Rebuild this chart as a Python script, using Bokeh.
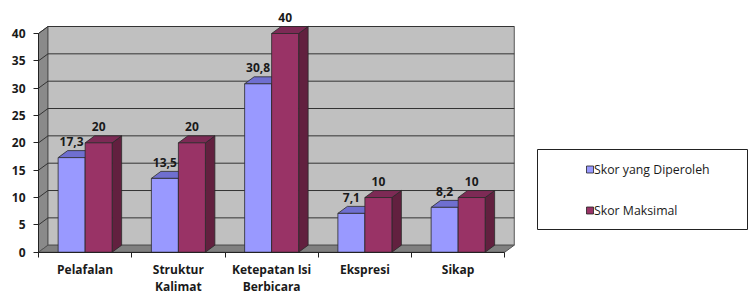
from bokeh.plotting import figure
from bokeh.models import LinearAxis, FixedTicker, Range1d
from bokeh.core.properties import value
from bokeh.embed import file_html
from bokeh.resources import INLINE

# ---------------- data ----------------
categories = ["Pelafalan", "Struktur\nKalimat", "Ketepatan Isi\nBerbicara", "Ekspresi", "Sikap"]
skor_diperoleh = [17.3, 13.5, 30.8, 7.1, 8.2]
skor_maksimal = [20, 20, 40, 10, 10]
label_diperoleh = ["17,3", "13,5", "30,8", "7,1", "8,2"]
label_maksimal = ["20", "20", "40", "10", "10"]
y_ticks = [0, 5, 10, 15, 20, 25, 30, 35, 40]
series_names = ["Skor yang Diperoleh", "Skor Maksimal"]

# ---------------- layout (pixels) ----------------
W, H = 749, 295
X0_PX = 38.0          # canvas x of the category axis origin
Y0_PX = 251.7         # canvas y (from top) of value 0
PX_PER_CAT = 93.25
PX_PER_UNIT = 5.4675
DEPTH_X_PX = 9.5
DEPTH_Y_PX = 7.0
BAR_W_PX = 27.0

FONT = value("Open Sans")

x_start = -X0_PX / PX_PER_CAT
x_end = (W - X0_PX) / PX_PER_CAT
y_start = -(H - Y0_PX) / PX_PER_UNIT
y_end = Y0_PX / PX_PER_UNIT
dx = DEPTH_X_PX / PX_PER_CAT
dy = DEPTH_Y_PX / PX_PER_UNIT
bw = BAR_W_PX / PX_PER_CAT


def px_x(cx):
    return (cx - X0_PX) / PX_PER_CAT


def px_y(cy):
    return (Y0_PX - cy) / PX_PER_UNIT


p = figure(width=W, height=H, x_range=Range1d(x_start, x_end), y_range=Range1d(y_start, y_end),
           output_backend="svg", toolbar_location=None, x_axis_location=None, y_axis_location=None,
           min_border=0)
p.outline_line_color = None
p.grid.grid_line_color = None
p.background_fill_color = "white"

n = len(categories)
ymax = y_ticks[-1]
EDGE = "#2a2a2a"

# walls & floor
p.patch([0, dx, dx, 0], [0, dy, ymax + dy, ymax], fill_color="#8a8a8a", line_color="#555555", line_width=1)
p.patch([dx, n + dx, n + dx, dx], [dy, dy, ymax + dy, ymax + dy], fill_color="#c0c0c0",
        line_color="#555555", line_width=1)
p.patch([0, n, n + dx, dx], [0, 0, dy, dy], fill_color="#808080", line_color="#555555", line_width=1)

# gridlines on walls
gx = [[0, dx, n + dx] for v in y_ticks[1:]]
gy = [[v, v + dy, v + dy] for v in y_ticks[1:]]
p.multi_line(gx, gy, line_color="#333333", line_width=1)


def bar3d(x0s, vals, front, top, side):
    x1s = [x + bw for x in x0s]
    p.patches(xs=[[x1, x1 + dx, x1 + dx, x1] for x1 in x1s],
              ys=[[0, dy, v + dy, v] for v in vals],
              fill_color=side, line_color=EDGE, line_width=0.8)
    p.patches(xs=[[x0, x1, x1 + dx, x0 + dx] for x0, x1 in zip(x0s, x1s)],
              ys=[[v, v, v + dy, v + dy] for v in vals],
              fill_color=top, line_color=EDGE, line_width=0.8)
    p.quad(left=x0s, right=x1s, bottom=0, top=vals, fill_color=front, line_color=EDGE, line_width=0.8)


centers = [i + 0.5 for i in range(n)]
blue_x0 = [c - bw for c in centers]
red_x0 = list(centers)

bar3d(blue_x0, skor_diperoleh, "#9999ff", "#6f6fd0", "#5c5cb0")
bar3d(red_x0, skor_maksimal, "#993366", "#7d2a55", "#62203f")

# value labels
for x0s, vals, labs in ((blue_x0, skor_diperoleh, label_diperoleh), (red_x0, skor_maksimal, label_maksimal)):
    p.text(x=[x + bw / 2 for x in x0s], y=vals, text=labs, text_align="center", text_baseline="alphabetic",
           y_offset=-16, text_font=FONT, text_font_style="bold", text_font_size="12px", text_color="#1a1a1a")

# axes
yaxis = LinearAxis(fixed_location=0, bounds=(0, ymax), ticker=FixedTicker(ticks=y_ticks, minor_ticks=[]))
yaxis.axis_line_color = "#222222"
yaxis.major_tick_line_color = "#222222"
yaxis.major_tick_out = 5
yaxis.major_tick_in = 0
yaxis.minor_tick_line_color = None
yaxis.major_label_standoff = 8
yaxis.major_label_text_font = "Open Sans"
yaxis.major_label_text_font_style = "bold"
yaxis.major_label_text_font_size = "12px"
yaxis.major_label_text_color = "#1a1a1a"
p.add_layout(yaxis, "left")

xaxis = LinearAxis(fixed_location=0, bounds=(0, n),
                   ticker=FixedTicker(ticks=centers, minor_ticks=list(range(n + 1))))
xaxis.major_label_overrides = {c: lab for c, lab in zip(centers, categories)}
xaxis.axis_line_color = "#222222"
xaxis.major_tick_line_color = None
xaxis.major_tick_out = 0
xaxis.major_tick_in = 0
xaxis.minor_tick_line_color = "#222222"
xaxis.minor_tick_out = 5
xaxis.minor_tick_in = 0
xaxis.major_label_standoff = 4
xaxis.major_label_text_font = "Open Sans"
xaxis.major_label_text_font_style = "bold"
xaxis.major_label_text_font_size = "12px"
xaxis.major_label_text_line_height = 1.0
xaxis.major_label_text_color = "#1a1a1a"
p.add_layout(xaxis, "below")

# legend (drawn manually to match the reference box)
LEG_L, LEG_R, LEG_T, LEG_B = 537, 747, 149, 229
p.quad(left=px_x(LEG_L), right=px_x(LEG_R), top=px_y(LEG_T), bottom=px_y(LEG_B),
       fill_color="white", line_color="#222222", line_width=1)
row_y = [169, 210]
sw_colors = ["#9999ff", "#993366"]
p.quad(left=[px_x(586)] * 2, right=[px_x(593)] * 2,
       top=[px_y(cy - 3.5) for cy in row_y], bottom=[px_y(cy + 3.5) for cy in row_y],
       fill_color=sw_colors, line_color="#222222", line_width=0.8)
p.text(x=[px_x(593.5)] * 2, y=[px_y(cy) for cy in row_y], text=series_names, text_align="left",
       text_baseline="middle", text_font=FONT, text_font_size="12.3px", text_color="#1a1a1a")

open("out.html", "w").write(file_html(p, INLINE))
